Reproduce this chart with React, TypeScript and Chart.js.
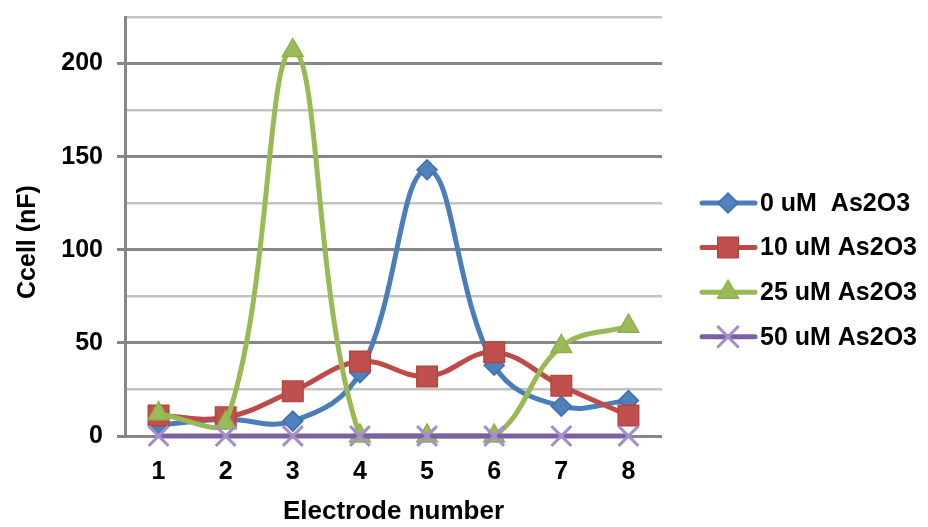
import React, { useEffect, useRef } from 'react';
import { Chart, registerables } from 'chart.js';
import { drawPoint } from 'chart.js/helpers';

Chart.register(...registerables);

// Electrode positions along the sensor array
const electrodes = ['1', '2', '3', '4', '5', '6', '7', '8'];

// Series labels
const seriesNames = ['0 uM  As2O3', '10 uM As2O3', '25 uM As2O3', '50 uM As2O3'];

// Cell capacitance (nF) per electrode for each arsenic trioxide dose
const ccell0uM = [6, 9, 8, 34, 143, 38, 16, 19];
const ccell10uM = [11, 10, 24, 40, 32, 45, 27, 11];
const ccell25uM = [12, 7, 207, 0, 0, 0, 48, 59];
const ccell50uM = [0, 0, 0, 0, 0, 0, 0, 0];

// Value axis range
const yMin = 0;
const yMax = 225;
const yStep = 25;
const yLabelStep = 50;

const FONT = '"Liberation Sans", Arial, sans-serif';
const MAJOR_GRID = '#878787';
const MINOR_GRID = '#c3c3c3';

const yTitle = {
  id: 'yTitle',
  afterDraw(chart: any) {
    const ctx = chart.ctx;
    ctx.save();
    ctx.translate(28, 242);
    ctx.rotate(-Math.PI / 2);
    ctx.font = `bold 25px ${FONT}`;
    ctx.fillStyle = '#000';
    ctx.textAlign = 'center';
    ctx.textBaseline = 'middle';
    ctx.fillText('Ccell (nF)', 0, 0);
    ctx.restore();
  },
};

// Legend with a line sample and marker per series, to the right of the plot
const seriesLegend = {
  id: 'seriesLegend',
  afterDraw(chart: any) {
    const ctx = chart.ctx;
    const top = 203;
    const gap = 44.6;
    ctx.save();
    chart.data.datasets.forEach((ds: any, i: number) => {
      const y = top + i * gap;
      ctx.strokeStyle = ds.borderColor;
      ctx.lineWidth = 5;
      ctx.lineCap = 'round';
      ctx.beginPath();
      ctx.moveTo(702, y);
      ctx.lineTo(755, y);
      ctx.stroke();
      ctx.fillStyle = ds.pointBackgroundColor;
      ctx.strokeStyle = ds.pointBorderColor;
      ctx.lineWidth = ds.pointBorderWidth;
      drawPoint(
        ctx,
        { pointStyle: ds.pointStyle, radius: ds.pointRadius, rotation: 0, borderWidth: ds.pointBorderWidth },
        728,
        y
      );
      ctx.font = `bold 25px ${FONT}`;
      ctx.fillStyle = '#000';
      ctx.textAlign = 'left';
      ctx.textBaseline = 'middle';
      ctx.fillText(ds.label, 760, y + 1);
    });
    ctx.restore();
  },
};

export default function App() {
  const canvasRef = useRef<HTMLCanvasElement | null>(null);

  useEffect(() => {
    document.body.style.margin = '0';
    const canvas = canvasRef.current;
    if (!canvas) return;

    const series = [
      { values: ccell0uM, line: '#4a7ebb', fill: '#4f81bd', edge: '#3f6fae', style: 'rectRot', radius: 10, order: 3 },
      { values: ccell10uM, line: '#be4b48', fill: '#c0504d', edge: '#b24542', style: 'rect', radius: 14.5, order: 2 },
      { values: ccell25uM, line: '#98b954', fill: '#9bbb59', edge: '#8fb04c', style: 'triangle', radius: 12, order: 1 },
      { values: ccell50uM, line: '#7d60a0', fill: '#a48fcc', edge: '#a48fcc', style: 'crossRot', radius: 14, order: 0 },
    ];

    const chart = new Chart(canvas, {
      type: 'line',
      data: {
        labels: electrodes,
        datasets: series.map((s, i) => ({
          label: seriesNames[i],
          data: s.values,
          borderColor: s.line,
          borderWidth: 5,
          tension: 0.4,
          pointStyle: s.style as any,
          pointRadius: s.radius,
          pointBackgroundColor: s.fill,
          pointBorderColor: s.edge,
          pointBorderWidth: s.style === 'crossRot' ? 3 : 1.5,
          order: s.order,
          clip: false as any,
        })),
      },
      options: {
        responsive: false,
        animation: false,
        layout: { padding: { top: 14, right: 266, left: 0, bottom: 0 } },
        plugins: {
          legend: { display: false },
          tooltip: { enabled: false },
        },
        scales: {
          x: {
            type: 'category',
            offset: true,
            grid: { display: false },
            border: { display: false },
            ticks: {
              color: '#000',
              font: { family: FONT, size: 25, weight: 'bold' },
              padding: 13,
              maxRotation: 0,
            },
            title: {
              display: true,
              text: 'Electrode number',
              color: '#000',
              font: { family: FONT, size: 26, weight: 'bold' },
              padding: { top: 8, bottom: 0 },
            },
            afterFit(scale: any) {
              scale.height = 91;
              scale.paddingLeft = 0;
              scale.paddingRight = 0;
            },
          },
          y: {
            min: yMin,
            max: yMax,
            grid: {
              color: (c: any) => (c.tick && c.tick.value % yLabelStep === 0 ? MAJOR_GRID : MINOR_GRID),
              lineWidth: (c: any) => (c.tick && c.tick.value % yLabelStep === 0 ? 3 : 2.5),
              tickColor: (c: any) => (c.tick && c.tick.value % yLabelStep === 0 ? MAJOR_GRID : 'rgba(0,0,0,0)'),
              tickLength: 8,
              tickWidth: 3,
            },
            border: { display: true, color: MAJOR_GRID, width: 3 },
            ticks: {
              stepSize: yStep,
              color: '#000',
              font: { family: FONT, size: 25, weight: 'bold' },
              padding: 14,
              callback: (v: any) => (Number(v) % yLabelStep === 0 ? String(v) : ''),
            },
            afterFit(scale: any) {
              scale.width = 125;
              scale.paddingTop = 0;
              scale.paddingBottom = 0;
            },
          },
        },
      },
      plugins: [yTitle, seriesLegend],
    });

    return () => chart.destroy();
  }, []);

  return <canvas ref={canvasRef} width={928} height={527} style={{ display: 'block' }} />;
}
